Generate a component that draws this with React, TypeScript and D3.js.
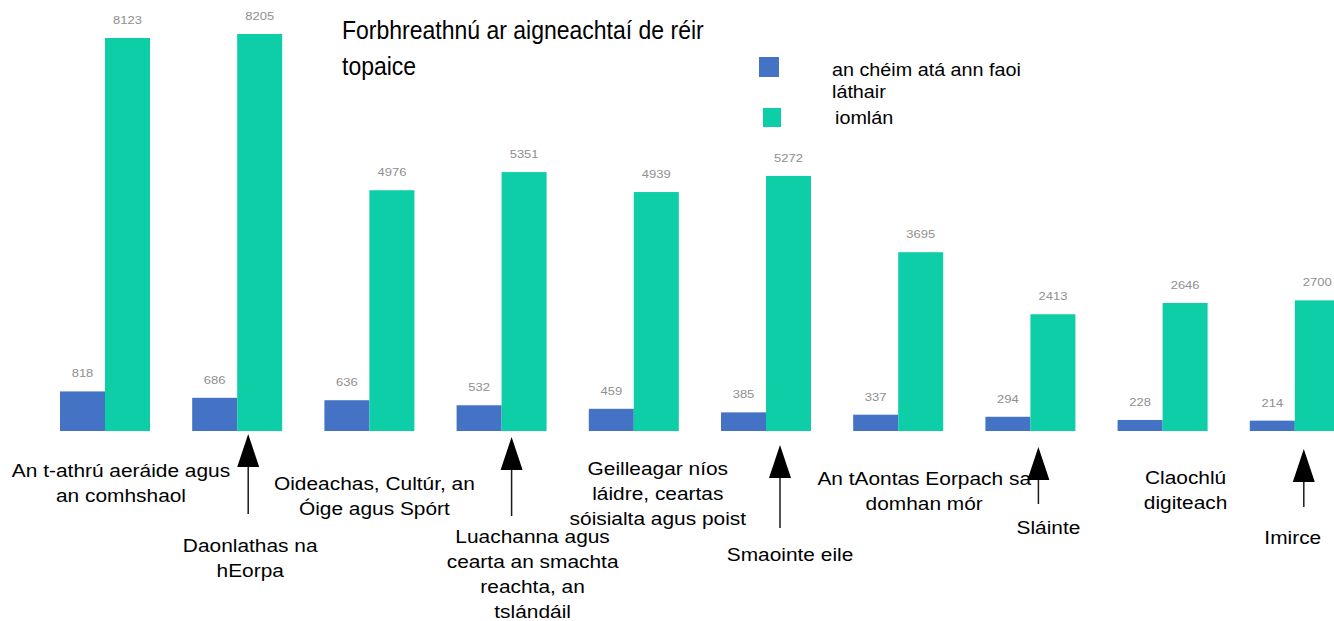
import React, { useEffect, useRef } from "react";
import * as d3 from "d3";

// topic categories (bottom labels are multi-line)
const categories = [
  "An t-athrú aeráide agus|an comhshaol",
  "Daonlathas na|hEorpa",
  "Oideachas, Cultúr, an|Óige agus Spórt",
  "Luachanna agus|cearta an smachta|reachta, an|tslándáil",
  "Geilleagar níos|láidre, ceartas|sóisialta agus poist",
  "Smaointe eile",
  "An tAontas Eorpach sa|domhan mór",
  "Sláinte",
  "Claochlú|digiteach",
  "Imirce",
];
const currentValues = [818, 686, 636, 532, 459, 385, 337, 294, 228, 214];
const totalValues = [8123, 8205, 4976, 5351, 4939, 5272, 3695, 2413, 2646, 2700];
const seriesNames = ["an chéim atá ann faoi|láthair", "iomlán"];
const seriesColors = ["#4472C4", "#0ECEA8"];

// hand placement of the category captions (offset from group centre) and arrows
const labelLayout = [
  { dx: 16, y: 477, arrow: null },
  { dx: 13, y: 552, arrow: { dx: 11, tip: 434, end: 514 } },
  { dx: 5, y: 490, arrow: null },
  { dx: 31, y: 543, arrow: { dx: 10, tip: 437, end: 516 } },
  { dx: 24, y: 475, arrow: null },
  { dx: 24, y: 561, arrow: { dx: 14, tip: 445, end: 528 } },
  { dx: 26, y: 485, arrow: null },
  { dx: 18, y: 534, arrow: { dx: 8, tip: 447, end: 504 } },
  { dx: 23, y: 484, arrow: null },
  { dx: -2, y: 544, arrow: { dx: 9, tip: 449, end: 507 } },
];

const W = 1334;
const H = 621;
const FONT = "'Liberation Sans', Arial, sans-serif";
const SX = 1.13; // the source text is slightly stretched horizontally

const App: React.FC = () => {
  const svgRef = useRef<SVGSVGElement | null>(null);

  useEffect(() => {
    if (!svgRef.current) return;
    const svg = d3.select(svgRef.current);
    svg.selectAll("*").remove();

    const baseline = 431;
    const x0 = d3.scaleBand<string>()
      .domain(categories)
      .range([38.9, 38.9 + 132.2 * categories.length])
      .paddingInner(1 - 90 / 132.2)
      .paddingOuter((1 - 90 / 132.2) / 2);
    const x1 = d3.scaleBand<string>()
      .domain(["current", "total"])
      .range([0, x0.bandwidth()]);
    const y = d3.scaleLinear().domain([0, 8205]).range([baseline, 34]);

    const stretchedText = (
      parent: d3.Selection<any, unknown, null, undefined>,
      cx: number,
      by: number,
      lines: string[],
      size: number,
      anchor: string,
      lineHeight: number,
      sx = SX
    ) => {
      const t = parent.append("text")
        .attr("transform", `translate(${cx},${by}) scale(${sx},1)`)
        .attr("text-anchor", anchor)
        .style("font-family", FONT)
        .style("font-size", `${size}px`)
        .attr("fill", "#000");
      lines.forEach((l, i) => {
        t.append("tspan").attr("x", 0).attr("y", i * lineHeight).text(l);
      });
      return t;
    };

    // bars
    categories.forEach((cat, i) => {
      const gx = x0(cat)!;
      const vals = [currentValues[i], totalValues[i]];
      ["current", "total"].forEach((key, k) => {
        const v = vals[k];
        const bx = gx + x1(key)!;
        svg.append("rect")
          .attr("x", bx)
          .attr("y", y(v))
          .attr("width", x1.bandwidth())
          .attr("height", baseline - y(v))
          .attr("fill", seriesColors[k]);
        svg.append("text")
          .attr("transform", `translate(${bx + x1.bandwidth() / 2},${y(v) - 14}) scale(${SX},1)`)
          .attr("text-anchor", "middle")
          .style("font-family", FONT)
          .style("font-size", "11.5px")
          .attr("fill", "#8f8f8f")
          .text(String(v));
      });
    });

    // category captions + arrows
    categories.forEach((cat, i) => {
      const c = x0(cat)! + x0.bandwidth() / 2;
      const lay = labelLayout[i];
      stretchedText(svg, c + lay.dx, lay.y, cat.split("|"), 18.5, "middle", 25);
      if (lay.arrow) {
        const ax = c + lay.arrow.dx;
        const headH = 33;
        svg.append("line")
          .attr("x1", ax).attr("x2", ax)
          .attr("y1", lay.arrow.tip + headH - 2)
          .attr("y2", lay.arrow.end)
          .attr("stroke", "#1a1a1a")
          .attr("stroke-width", 1.5);
        svg.append("path")
          .attr("d", `M${ax},${lay.arrow.tip} L${ax + 11},${lay.arrow.tip + headH} L${ax - 11},${lay.arrow.tip + headH} Z`)
          .attr("fill", "#000");
      }
    });

    // title
    stretchedText(svg, 342, 39, ["Forbhreathnú ar aigneachtaí de réir", "topaice"], 25, "start", 36, 0.92);

    // legend
    svg.append("rect").attr("x", 759).attr("y", 57).attr("width", 20).attr("height", 20).attr("fill", seriesColors[0]);
    svg.append("rect").attr("x", 763).attr("y", 108).attr("width", 18).attr("height", 19).attr("fill", seriesColors[1]);
    stretchedText(svg, 832, 76, seriesNames[0].split("|"), 17.5, "start", 22);
    stretchedText(svg, 835, 124, seriesNames[1].split("|"), 17.5, "start", 22);
  }, []);

  return (
    <svg
      ref={svgRef}
      width={W}
      height={H}
      style={{ position: "absolute", left: 0, top: 0, background: "#fff" }}
    />
  );
};

export default App;
